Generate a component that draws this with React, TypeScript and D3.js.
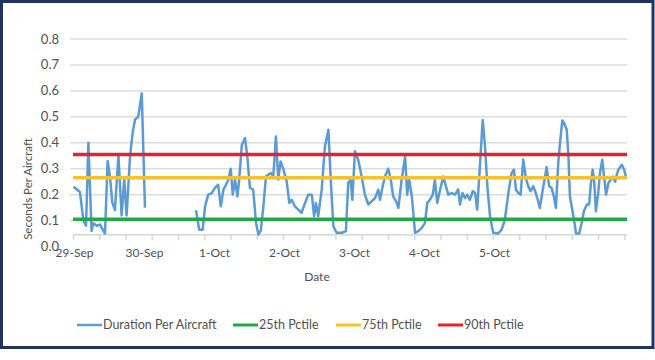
import React from "react";
import * as d3 from "d3";

// hours since 29-Sep 00:00, null value = no data
const durationHours = [
  0, 2.2, 3.4, 4.3, 5.1, 6.2, 6.8, 8.0, 9.1, 9.8, 10.8, 11.7, 12.5, 13.3, 14.2, 15.4, 16.5, 17.4, 18.2, 19.4,
  20.3, 21.1, 22.2, 23.4, 24.5,
  33,
  42.0, 43.1, 44.3, 45.1, 46.2, 47.4, 48.5, 49.6, 50.5, 51.4, 52.3, 53.1, 53.9, 54.6, 55.4, 56.2, 56.8, 57.7,
  58.8, 59.6, 60.5, 61.6, 62.6, 63.4, 64.2, 65.1, 66.0, 66.8, 67.7, 68.5, 69.4, 70.2, 71.0, 71.9, 73.1, 74.0,
  74.8, 75.9, 77.1, 78.2, 79.4, 80.5, 81.7, 82.5, 83.1, 83.9, 85.1, 86.2, 87.4, 88.2, 89.1, 90.2, 92.0, 93.4,
  94.2, 95.0, 95.6, 96.5, 97.6, 98.8, 99.9, 101.1, 102.2, 103.4, 104.5, 105.1, 106.0, 106.8, 107.9, 108.8,
  109.6, 110.6, 111.4, 112.5, 113.7, 114.4, 115.1, 116.0, 117.1, 118.2, 119.4, 120.5, 121.3, 122.2, 123.2,
  123.9, 124.7, 125.7, 126.8, 127.7, 128.5, 129.7, 130.8, 131.9, 132.5, 133.4, 134.2, 135.0, 135.9, 136.9,
  137.7, 138.4, 139.4, 140.3, 141.1, 141.9, 142.8, 143.9, 145.6, 146.8, 147.9, 149.1, 150.2, 151.0, 151.7,
  152.5, 153.3, 154.2, 155.1, 155.9, 156.7, 157.6, 158.5, 159.0, 159.9, 160.9, 161.7, 162.2, 163.1, 163.9,
  164.7, 165.4, 166.2, 166.8, 167.6, 168.2, 169.1, 169.7, 170.2, 170.8, 171.6, 172.3, 173.4, 174.2, 175.0,
  176.0, 176.8, 177.3, 178.0, 178.5, 179.1, 179.9, 180.5, 181.3, 181.9, 182.6, 183.4, 184.2, 184.9, 185.7,
  186.3, 186.8, 188.0, 188.8, 189.5,
];
const durationValues: (number | null)[] = [
  0.23, 0.21, 0.1, 0.08, 0.4, 0.06, 0.09, 0.08, 0.085, 0.07, 0.05, 0.33, 0.27, 0.17, 0.14, 0.35, 0.12, 0.26, 0.12, 0.35,
  0.44, 0.49, 0.5, 0.59, 0.15,
  null,
  0.14, 0.065, 0.065, 0.155, 0.2, 0.206, 0.226, 0.238, 0.155, 0.219, 0.238, 0.258, 0.3, 0.2, 0.258, 0.193, 0.258, 0.39,
  0.418, 0.347, 0.226, 0.219, 0.09, 0.046, 0.06, 0.155, 0.27, 0.277, 0.283, 0.27, 0.424, 0.258, 0.328, 0.3, 0.25, 0.168,
  0.18, 0.155, 0.142, 0.13, 0.168, 0.2, 0.2, 0.117, 0.168, 0.117, 0.219, 0.386, 0.45, 0.258, 0.078, 0.053, 0.053, 0.059,
  0.245, 0.258, 0.18, 0.367, 0.335, 0.27, 0.2, 0.162, 0.174, 0.187, 0.219, 0.18, 0.232, 0.27, 0.3, 0.258,
  0.193, 0.174, 0.149, 0.258, 0.347, 0.2, 0.258, 0.193, 0.053, 0.059, 0.072, 0.09, 0.168, 0.18, 0.2,
  0.258, 0.168, 0.219, 0.27, 0.232, 0.2, 0.206, 0.2, 0.22, 0.162, 0.206, 0.187, 0.2, 0.18, 0.213,
  0.206, 0.142, 0.322, 0.488, 0.386, 0.232, 0.117, 0.053, 0.05, 0.065, 0.104, 0.206, 0.283, 0.296, 0.219,
  0.206, 0.2, 0.335, 0.264, 0.232, 0.213, 0.232, 0.206, 0.187, 0.149, 0.219, 0.27, 0.306, 0.232, 0.226,
  0.193, 0.149, 0.322, 0.399, 0.486, 0.476, 0.45, 0.347, 0.193, 0.155, 0.104, 0.05, 0.05, 0.09, 0.136,
  0.162, 0.162, 0.232, 0.296, 0.258, 0.136, 0.206, 0.283, 0.335, 0.27, 0.2, 0.245, 0.258, 0.27, 0.25,
  0.277, 0.296, 0.315, 0.296, 0.264,
];

const dayLabels = ["29-Sep", "30-Sep", "1-Oct", "2-Oct", "3-Oct", "4-Oct", "5-Oct"];
const yTicks = [0, 0.1, 0.2, 0.3, 0.4, 0.5, 0.6, 0.7, 0.8];

const percentileNames = ["25th Pctile", "75th Pctile", "90th Pctile"];
const percentileValues = [0.105, 0.265, 0.355];
const percentileColors = ["#22a84a", "#fbc02d", "#e0262a"];

const seriesName = "Duration Per Aircraft";
const seriesColor = "#5b9bd5";

const W = 655;
const H = 360;
const font = "Lato, 'Open Sans', sans-serif";
const textColor = "#505050";

export default function App() {
  const x = d3.scaleLinear().domain([0, 189.5]).range([73.5, 626.2]);
  const y = d3.scaleLinear().domain([0, 0.8]).range([246.5, 39]);
  const axisY = y(0.045);

  const pts = durationHours.map((h, i) => ({ h, v: durationValues[i] }));
  const line = d3
    .line<{ h: number; v: number | null }>()
    .defined((d) => d.v !== null)
    .x((d) => x(d.h))
    .y((d) => y(d.v as number));

  const minorTicks = d3.range(0, 190, 9);

  const legendItems = [
    { name: seriesName, color: seriesColor, w: 2.5, x0: 77 },
    ...percentileNames.map((n, i) => ({
      name: n,
      color: percentileColors[i],
      w: 3,
      x0: [233, 336, 438][i],
    })),
  ];

  return (
    <svg width={W} height={H} style={{ position: "absolute", left: 0, top: 0, background: "#fff" }}>
      <rect x={1.5} y={1.5} width={651.5} height={346} fill="#fff" stroke="#1f3560" strokeWidth={3} />

      {/* gridlines */}
      {yTicks.slice(1).map((t) => (
        <line key={t} x1={70} x2={627} y1={y(t)} y2={y(t)} stroke="#dcdcdc" strokeWidth={1.5} />
      ))}

      {/* category axis */}
      <line x1={73} x2={627} y1={axisY} y2={axisY} stroke="#d6d6d6" strokeWidth={1.5} />
      {minorTicks.map((t) => (
        <line key={t} x1={x(t)} x2={x(t)} y1={axisY} y2={axisY + 5} stroke="#d6d6d6" strokeWidth={1.5} />
      ))}

      {yTicks.map((t) => (
        <text key={t} x={59} y={y(t)} dy="0.35em" textAnchor="end" fontFamily={font} fontSize={13} fill={textColor}>
          {t.toFixed(1)}
        </text>
      ))}

      {dayLabels.map((d, i) => (
        <text key={d} x={x(i * 24) + 1} y={253} dy="0.35em" textAnchor="middle" fontFamily={font} fontSize={12} fill={textColor}>
          {d}
        </text>
      ))}

      <text x={317} y={277} dy="0.35em" textAnchor="middle" fontFamily={font} fontSize={12} fill={textColor}>
        Date
      </text>
      <text
        transform={`translate(28,189) rotate(-90)`}
        dy="0.35em"
        textAnchor="middle"
        fontFamily={font}
        fontSize={11.5}
        fill={textColor}
      >
        Seconds Per Aircraft
      </text>

      {/* series */}
      <path d={line(pts) || ""} fill="none" stroke={seriesColor} strokeWidth={2.5} strokeLinejoin="round" />

      {percentileValues.map((v, i) => (
        <line key={i} x1={73} x2={627} y1={y(v)} y2={y(v)} stroke={percentileColors[i]} strokeWidth={3.5} />
      ))}

      {/* legend */}
      {legendItems.map((it) => (
        <g key={it.name}>
          <line x1={it.x0} x2={it.x0 + 25} y1={325} y2={325} stroke={it.color} strokeWidth={it.w} />
          <text x={it.x0 + 26} y={325} dy="0.35em" fontFamily={font} fontSize={12.5} fill={textColor}>
            {it.name}
          </text>
        </g>
      ))}
    </svg>
  );
}
